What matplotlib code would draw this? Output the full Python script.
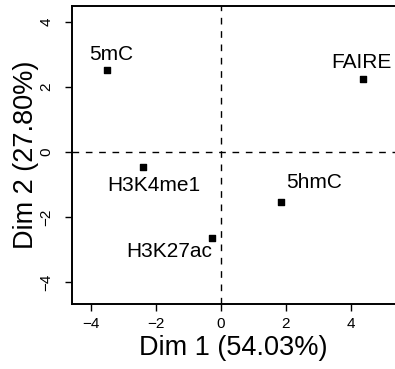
import matplotlib.pyplot as plt

plt.rcParams['font.family'] = ['Liberation Sans', 'DejaVu Sans']

labels = ["5mC", "FAIRE", "H3K4me1", "5hmC", "H3K27ac"]
dim1 = [-3.51, 4.36, -2.40, 1.84, -0.28]
dim2 = [2.52, 2.24, -0.46, -1.54, -2.65]
ticks = [-4, -2, 0, 2, 4]

# label offsets from the point, in pixels
offsets = {
    "5mC": (5, 10),
    "FAIRE": (-1, 11),
    "H3K4me1": (11, -24),
    "5hmC": (33, 14),
    "H3K27ac": (-43, -19),
}

fig = plt.figure(figsize=(3.95, 3.69), dpi=100)
ax = fig.add_axes([0.182, 0.176, 0.818, 0.808])

ax.axvline(0, color='black', linestyle=(0, (4.8, 4.8)), linewidth=1.0, zorder=1)
ax.axhline(0, color='black', linestyle=(0, (4.8, 4.8)), linewidth=1.0, zorder=1)
ax.scatter(dim1, dim2, marker='s', s=18, color='black', zorder=3)

for lab, x, y in zip(labels, dim1, dim2):
    ax.annotate(lab, (x, y), xytext=offsets[lab], textcoords='offset pixels',
                ha='center', va='baseline', fontsize=15)

ax.set_xlim(-4.58, 5.35)
ax.set_ylim(-4.68, 4.49)
ax.set_xticks(ticks)
ax.set_yticks(ticks)
ax.set_xticklabels([str(t).replace('-', '\u2212') for t in ticks])
ax.set_yticklabels([str(t).replace('-', '\u2212') for t in ticks],
                   rotation=90, va='center')
ax.tick_params(direction='out', length=5, width=1, labelsize=11)
ax.tick_params(axis='x', pad=4)
ax.tick_params(axis='y', pad=8.5)

ax.spines['right'].set_visible(False)
for s in ['left', 'top', 'bottom']:
    ax.spines[s].set_linewidth(1.4)

ax.set_xlabel("Dim 1 (54.03%)", fontsize=19.5, labelpad=3)
ax.set_ylabel("Dim 2 (27.80%)", fontsize=19.5, labelpad=0)

fig.savefig("out.png", dpi=100)
